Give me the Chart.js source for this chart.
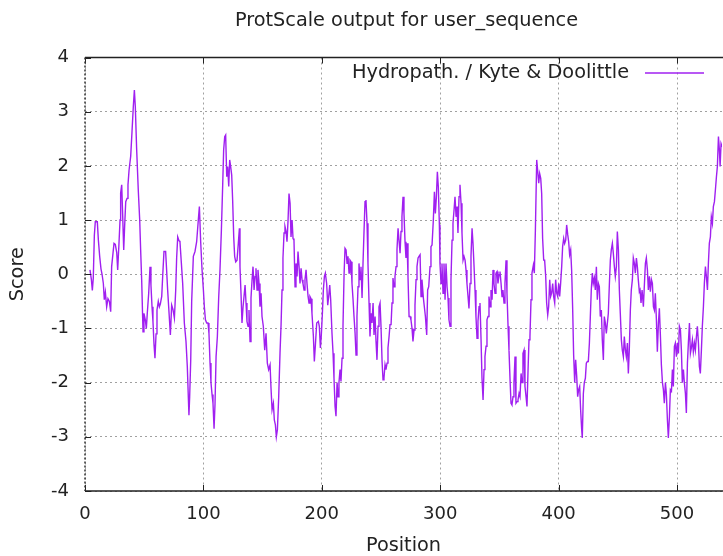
<!DOCTYPE html>
<html><head><meta charset="utf-8">
<script src="https://cdn.jsdelivr.net/npm/chart.js@4/dist/chart.umd.min.js"></script>
<style>html,body{margin:0;padding:0;background:#fff;}canvas{display:block;}</style>
</head><body>
<canvas id="c" width="723" height="556"></canvas>
<script>
const chartTitle = 'ProtScale output for user_sequence';
const seriesLabel = 'Hydropath. / Kyte & Doolittle';
const xTitle = 'Position';
const yTitle = 'Score';
const xTickStep = 100;
const yTickStep = 1;

const positions = [
4.2,5.4,6.2,7.0,7.9,8.7,10.4,11.3,12.4,13.5,14.4,15.5,16.3,17.2,18.3,19.4,20.6,21.7,22.5,23.7,
24.5,25.6,26.8,27.6,28.7,29.6,30.1,31.0,31.8,32.7,33.5,34.4,35.5,36.3,37.2,38.6,39.7,40.8,41.7,42.5,
43.6,45.0,46.2,47.0,47.9,49.0,49.8,51.0,51.8,52.6,53.8,54.9,55.7,56.6,57.4,58.3,59.1,60.0,60.8,61.9,
62.8,63.6,64.8,65.6,66.7,68.1,69.0,69.8,71.0,72.1,73.2,74.3,75.5,76.6,77.4,78.3,79.4,80.2,81.4,82.5,
83.9,85.3,86.4,87.3,87.8,88.4,89.3,90.1,91.5,92.9,94.3,95.7,96.6,97.7,98.8,100.0,100.8,101.7,102.8,103.9,
104.7,105.6,106.4,107.3,108.1,109.0,109.8,110.7,111.8,112.9,114.0,115.2,116.3,117.1,118.0,118.8,119.7,120.5,121.4,122.2,
123.0,123.9,124.7,125.6,126.4,127.3,128.4,129.5,130.4,130.9,131.8,132.6,133.5,134.3,135.2,136.0,136.8,137.7,138.5,139.4,
140.2,141.1,141.9,142.8,143.6,144.4,145.3,146.1,147.0,147.8,148.7,149.5,150.6,151.8,152.9,154.0,155.1,156.3,157.1,158.0,
159.1,159.9,160.8,161.6,162.5,163.6,164.7,165.6,166.4,167.2,168.1,168.9,169.8,170.6,171.5,172.3,173.2,174.0,174.9,175.7,
176.5,177.4,178.2,179.1,179.9,180.8,181.6,182.5,183.3,184.1,185.0,185.8,186.7,187.5,188.4,189.2,190.0,190.9,191.7,192.9,
193.7,194.6,195.7,197.1,197.9,198.8,199.6,200.5,201.3,202.2,203.0,204.1,205.0,205.8,206.7,207.5,208.6,209.5,210.3,211.2,
212.0,212.9,213.7,214.5,215.4,216.2,217.1,217.9,218.8,219.6,220.5,221.3,222.1,223.0,223.8,224.7,225.5,226.4,227.2,228.1,
228.9,229.7,230.6,231.4,232.3,233.1,234.0,234.8,235.7,236.5,237.3,238.2,239.0,239.9,240.7,241.6,242.4,243.3,244.1,245.0,
245.8,246.6,247.5,248.3,249.2,250.0,250.9,251.7,252.5,253.4,254.2,255.1,255.9,256.8,257.6,258.5,259.3,260.1,261.0,261.8,
262.7,263.5,264.4,265.2,266.1,266.9,267.7,268.6,269.4,270.3,271.1,272.0,272.8,273.7,274.5,275.3,276.2,277.0,277.9,278.7,
279.6,280.4,281.3,282.1,283.0,283.8,284.6,285.8,286.6,287.5,288.6,289.4,290.3,291.4,292.2,293.1,294.2,295.1,295.9,296.7,
297.6,298.4,299.3,299.8,300.7,301.5,302.4,303.2,304.1,304.9,305.8,306.6,307.4,308.3,309.1,310.0,310.8,311.7,312.5,313.4,
314.2,315.0,315.9,316.7,317.6,318.4,319.3,320.1,321.0,321.8,322.6,323.5,324.3,325.2,326.0,326.9,327.7,328.6,329.4,330.2,
331.1,331.9,332.8,333.6,334.5,335.3,336.2,337.0,337.8,338.7,339.5,340.4,341.2,342.1,342.9,343.8,344.6,345.4,346.3,347.1,
348.0,348.8,349.7,350.5,351.4,352.2,353.0,353.9,354.7,355.6,356.4,357.3,358.1,359.0,359.8,360.6,361.5,362.3,363.2,364.0,
364.9,365.7,366.6,367.4,368.3,369.1,369.9,370.8,371.6,372.5,373.3,374.2,375.0,375.8,376.7,377.5,378.7,379.5,380.4,381.5,
382.3,383.2,384.0,384.9,385.7,386.5,387.4,388.2,389.1,389.9,390.8,391.6,392.5,393.3,394.1,395.0,395.8,396.7,397.5,398.4,
399.2,400.1,400.9,401.7,402.6,403.4,404.3,405.1,406.0,406.8,407.7,408.5,409.3,410.2,411.0,411.9,412.7,413.6,414.4,415.3,
416.1,416.9,417.8,418.6,419.5,420.0,420.9,421.7,422.6,423.4,424.3,425.1,426.0,426.8,427.6,428.5,429.3,430.2,431.0,431.9,
432.7,433.6,434.4,435.2,436.1,436.9,437.8,438.6,439.5,440.3,441.2,442.0,442.9,443.7,444.5,445.4,446.2,447.1,447.9,448.8,
449.6,450.5,451.3,452.1,453.0,453.8,454.7,455.5,456.4,457.2,458.1,458.9,459.7,460.6,461.4,462.3,463.1,464.0,464.8,465.7,
466.5,467.3,468.2,468.8,469.6,470.5,471.6,472.5,473.3,474.1,475.0,475.8,476.7,477.5,478.4,479.2,480.1,480.9,481.7,482.6,
483.4,484.3,485.1,486.0,486.8,487.7,488.5,489.3,490.2,491.0,491.9,492.7,493.6,494.4,495.3,496.1,496.9,497.8,498.6,499.5,
500.3,501.2,502.0,502.9,503.7,504.5,505.4,506.2,507.1,507.9,508.8,509.6,510.5,511.3,512.1,513.0,513.8,514.7,515.5,516.4,
517.2,518.1,518.9,519.7,520.6,521.4,522.3,523.1,524.0,524.8,525.7,526.5,527.3,528.2,529.0,529.9,530.7,531.6,532.4,533.3,
534.1,535.0,535.8,536.4,537.2,538.1
];

const scores = [
0.08,-0.1,-0.3,-0.07,0.72,0.97,0.97,0.63,0.33,0.1,0.0,-0.17,-0.47,-0.33,-0.6,-0.45,-0.5,-0.69,0.14,0.4,
0.57,0.55,0.4,0.08,0.57,1.0,1.5,1.65,1.1,0.45,0.9,1.34,1.4,1.65,1.92,2.18,2.63,3.09,3.4,3.09,
2.32,1.55,1.0,0.45,-0.13,-1.06,-0.72,-0.85,-1.0,-0.72,-0.35,0.14,-0.2,-0.6,-0.87,-1.3,-1.55,-1.1,-0.66,-0.5,
-0.6,-0.55,-0.41,-0.04,0.42,0.42,0.05,-0.29,-0.72,-1.12,-0.57,-0.65,-0.81,-0.3,0.3,0.69,0.62,0.6,0.2,-0.17,
-0.9,-1.24,-1.7,-2.29,-2.6,-2.26,-1.58,-0.5,0.33,0.42,0.6,1.0,1.25,0.6,0.1,-0.29,-0.6,-0.84,-0.9,-0.9,
-1.09,-1.64,-2.0,-2.22,-2.38,-2.85,-2.4,-1.52,-1.15,-0.44,0.08,0.82,1.65,2.29,2.54,2.57,1.8,1.99,1.62,2.11,
1.99,1.83,1.37,0.69,0.33,0.23,0.26,0.57,0.85,0.14,-0.38,-0.9,-0.6,-0.41,-0.2,-0.53,-0.87,-0.96,-0.66,-1.24,
-0.44,-0.1,0.14,-0.29,-0.04,0.11,-0.29,0.08,-0.17,-0.6,-0.35,-0.78,-0.96,-1.4,-1.09,-1.64,-1.76,-1.67,-2.1,-2.5,
-2.38,-2.69,-2.78,-3.0,-2.87,-2.26,-1.46,-0.93,-0.29,0.3,0.76,0.88,0.79,0.6,1.0,1.49,1.31,0.69,1.0,0.66,
0.63,-0.23,0.2,-0.04,0.42,0.14,-0.17,0.11,-0.1,-0.17,-0.29,-0.1,0.08,-0.17,-0.41,-0.53,-0.41,-0.45,-0.72,-1.15,
-1.61,-1.3,-0.9,-0.87,-0.96,-1.36,-1.12,-0.72,-0.29,-0.04,0.02,-0.17,-0.57,-0.41,-0.2,-0.47,-1.09,-1.46,-1.92,-2.44,
-2.62,-2.0,-2.26,-2.0,-1.76,-1.98,-1.55,-0.96,-0.01,0.48,0.45,0.2,0.33,0.02,0.26,0.23,-0.17,-0.47,-0.78,-1.09,
-1.49,-0.78,-0.23,0.2,-0.1,0.14,-0.44,0.2,0.82,1.34,1.37,0.94,0.2,-0.53,-1.15,-0.72,-0.9,-0.53,-1.12,-0.78,
-1.24,-1.58,-0.96,-0.6,-0.53,-0.96,-1.61,-1.95,-1.92,-1.67,-1.76,-1.64,-1.36,-1.15,-0.93,-0.93,-0.53,-0.07,-0.23,-0.04,
0.14,0.45,0.85,0.63,0.39,0.79,1.06,1.43,1.12,0.6,0.3,0.57,-0.04,-0.78,-0.78,-0.84,-1.0,-1.24,-1.03,-0.57,
-0.1,0.14,0.3,0.33,0.36,-0.41,-0.1,-0.44,-0.6,-0.78,-1.12,-0.29,-0.23,0.14,0.51,0.54,1.0,1.52,1.12,1.4,
1.89,1.62,0.91,0.2,-0.17,0.2,-0.35,0.2,-0.47,0.2,-0.23,-0.44,-0.84,-0.96,-0.1,0.63,0.94,1.19,1.43,1.06,
1.25,0.76,1.43,1.65,1.31,0.76,0.26,0.33,0.26,0.08,-0.17,-0.41,-0.63,-0.17,0.33,0.85,0.57,0.14,-0.29,-0.78,
-1.18,-0.87,-0.6,-0.53,-1.21,-1.92,-2.32,-1.76,-1.52,-1.33,-0.84,-0.78,-0.41,-0.6,-0.29,-0.47,0.08,-0.17,-0.35,0.02,
0.05,-0.17,-0.01,0.05,-0.17,-0.41,-0.29,-0.53,-0.17,0.26,-0.35,-0.96,-1.4,-1.95,-2.38,-2.41,-2.26,-2.0,-1.52,-2.38,
-2.35,-2.32,-2.2,-2.26,-1.83,-2.0,-1.46,-1.4,-2.07,-2.26,-2.44,-1.76,-1.21,-1.15,-0.47,0.02,0.17,0.02,0.82,2.11,
1.92,1.68,1.86,1.77,1.49,0.66,0.26,0.26,-0.04,-0.53,-0.75,-0.6,-0.1,-0.41,-0.35,-0.17,-0.41,-0.53,-0.1,-0.35,
-0.41,-0.17,-0.41,-0.17,0.14,0.51,0.66,0.57,0.63,0.91,0.73,0.6,0.36,0.45,0.08,-0.66,-1.49,-2.0,-1.58,-1.89,
-2.26,-2.13,-2.07,-2.5,-2.87,-3.02,-2.2,-2.0,-1.92,-1.64,-1.61,-1.61,-1.27,-0.78,-0.29,0.02,-0.17,-0.07,-0.29,0.14,
-0.47,-0.17,-0.23,-0.78,-0.66,-1.21,-1.58,-0.78,-0.9,-1.09,-0.9,-0.72,-0.17,0.26,0.45,0.57,0.39,0.14,-0.04,0.14,
0.79,0.45,-0.29,-0.72,-1.21,-1.4,-1.52,-1.15,-1.4,-1.52,-1.27,-1.83,-1.4,-0.66,-0.29,-0.1,0.3,0.2,0.02,0.3,
0.14,-0.1,-0.32,-0.29,-0.53,-0.29,-0.6,-0.17,0.2,0.3,0.08,-0.29,-0.04,-0.32,-0.1,-0.17,-0.6,-0.66,-0.35,-0.84,
-1.43,-0.9,-0.63,-1.15,-1.67,-2.0,-2.13,-2.38,-2.0,-2.2,-2.69,-3.02,-2.62,-2.13,-2.16,-1.76,-2.07,-1.33,-1.27,-1.52,
-1.27,-1.46,-0.96,-1.03,-1.4,-2.0,-1.76,-2.0,-2.2,-2.56,-1.64,-1.27,-0.9,-1.46,-1.36,-1.21,-1.43,-1.27,-1.4,-1.15,
-0.96,-1.27,-1.7,-1.83,-1.4,-0.96,-0.6,-0.17,0.14,-0.04,-0.29,0.2,0.57,0.69,1.06,0.94,1.25,1.34,1.55,1.8,
1.99,2.54,2.29,1.99,2.41,2.35
];

const xMin = 0, xMax = 538;
const yMin = -4, yMax = 4;

const n = Math.min(positions.length, scores.length);
const points = [];
for (let i = 0; i < n; i++) points.push({x: positions[i], y: scores[i]});

const FONT = '"DejaVu Sans", sans-serif';
const TEXT = '#222';
const FS = 18;
const FS_BIG = 19.3;

const framePlugin = {
  id: 'frame',
  afterDatasetsDraw(chart) {
    const {ctx, chartArea: a, scales: {x, y}} = chart;
    ctx.save();
    ctx.strokeStyle = '#222';
    ctx.lineWidth = 1;
    ctx.beginPath();
    y.ticks.forEach(t => {
      const py = Math.round(y.getPixelForValue(t.value)) + 0.5;
      ctx.moveTo(a.left, py); ctx.lineTo(a.left + 6, py);
    });
    x.ticks.forEach(t => {
      const px = Math.round(x.getPixelForValue(t.value)) + 0.5;
      ctx.moveTo(px, a.bottom); ctx.lineTo(px, a.bottom - 6);
      ctx.moveTo(px, a.top); ctx.lineTo(px, a.top + 6);
    });
    ctx.stroke();
    ctx.lineWidth = 1.5;
    ctx.beginPath();
    ctx.moveTo(a.left, a.top); ctx.lineTo(a.right + 1, a.top);
    ctx.moveTo(a.left, a.bottom); ctx.lineTo(a.right + 1, a.bottom);
    ctx.stroke();
    ctx.setLineDash([2, 2]);
    ctx.strokeStyle = '#333';
    ctx.beginPath();
    ctx.moveTo(a.left, a.top); ctx.lineTo(a.left, a.bottom);
    ctx.stroke();
    ctx.setLineDash([]);
    // title
    ctx.fillStyle = TEXT;
    ctx.font = FS_BIG + 'px ' + FONT;
    ctx.textAlign = 'center';
    ctx.textBaseline = 'middle';
    ctx.fillText(chartTitle, (a.left + a.right) / 2 + 3, a.top - 36.5);
    // legend
    const ds = chart.data.datasets[0];
    ctx.textAlign = 'right';
    ctx.fillText(ds.label, a.right - 93, a.top + 15);
    ctx.strokeStyle = ds.borderColor;
    ctx.lineWidth = 1.4;
    ctx.beginPath();
    ctx.moveTo(a.right - 77, a.top + 15.5); ctx.lineTo(a.right - 18, a.top + 15.5);
    ctx.stroke();
    ctx.restore();
  }
};

new Chart(document.getElementById('c'), {
  type: 'line',
  data: {
    datasets: [{
      label: seriesLabel,
      data: points,
      borderColor: '#a020f0',
      borderWidth: 1.4,
      pointRadius: 0,
      tension: 0,
      fill: false
    }]
  },
  options: {
    responsive: false,
    animation: false,
    devicePixelRatio: 1,
    layout: {padding: {top: 57.5, right: 1, left: 0, bottom: 0}},
    plugins: {legend: {display: false}, tooltip: {enabled: false}, title: {display: false}},
    scales: {
      x: {
        type: 'linear', min: xMin, max: xMax,
        ticks: {stepSize: xTickStep, includeBounds: false, color: TEXT, font: {family: FONT, size: FS}, padding: 13, maxRotation: 0},
        grid: {color: '#a0a0a0', lineWidth: 1, drawTicks: false},
        border: {display: false, dash: [2, 3]},
        title: {display: true, text: xTitle, color: TEXT, font: {family: FONT, size: FS_BIG}, padding: {top: 0, bottom: -2}},
        afterFit(s) { s.height = 65; }
      },
      y: {
        type: 'linear', min: yMin, max: yMax,
        ticks: {stepSize: yTickStep, color: TEXT, font: {family: FONT, size: FS}, padding: 16},
        grid: {color: '#a0a0a0', lineWidth: 1, drawTicks: false},
        border: {display: false, dash: [2, 3]},
        title: {display: true, text: yTitle, color: TEXT, font: {family: FONT, size: FS_BIG}, padding: {top: 6.4, bottom: 0}},
        afterFit(s) { s.width = 85; }
      }
    }
  },
  plugins: [framePlugin]
});
</script>
</body></html>
